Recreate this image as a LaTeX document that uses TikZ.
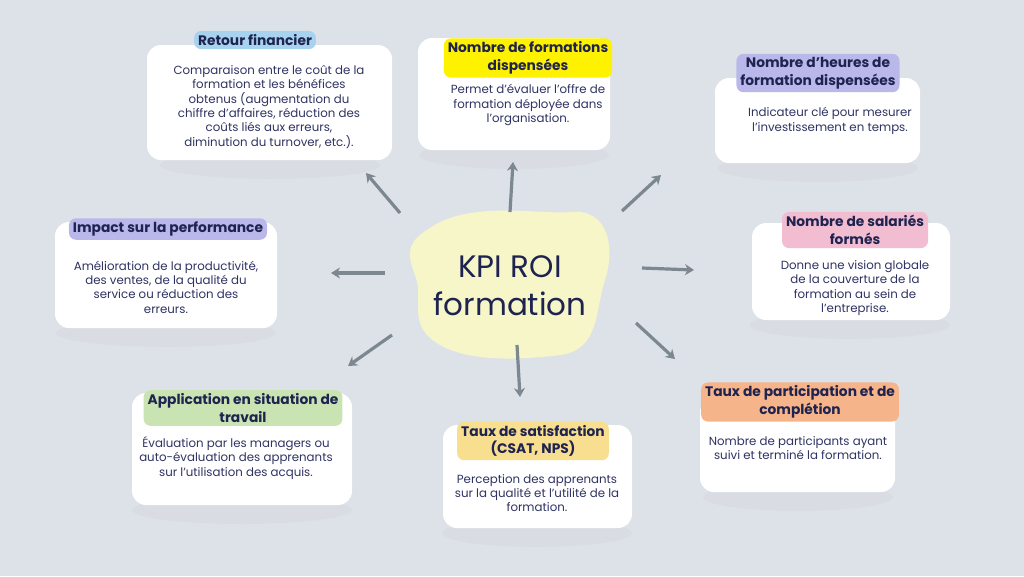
\documentclass[tikz,border=0pt]{standalone}
\usepackage{fontspec}
\setmainfont{Poppins}
\usetikzlibrary{arrows.meta}
\definecolor{bg}{HTML}{DDE2E9}
\definecolor{ink}{HTML}{1E2350}
\definecolor{body}{HTML}{2F3363}
\definecolor{arr}{HTML}{7C8790}
\definecolor{cblue}{HTML}{A7D3EE}
\definecolor{cyel}{HTML}{FFF200}
\definecolor{clav}{HTML}{BAB7EA}
\definecolor{cpink}{HTML}{F3BDD1}
\definecolor{corg}{HTML}{F6B48A}
\definecolor{csat}{HTML}{F8DE8F}
\definecolor{cgrn}{HTML}{C9E3B3}
\definecolor{blob}{HTML}{F6F6C9}
\tikzset{
 card/.style={fill=white,rounded corners=14pt,draw=none},
 shad/.style={fill=gray!40,opacity=0.2,draw=none},
 lab/.style={rounded corners=7pt,inner xsep=4pt,inner ysep=3.5pt,align=center,font=\fontsize{13.8}{17.5}\selectfont\bfseries,text=ink},
 txt/.style={align=center,font=\fontsize{11.8}{14.3}\selectfont,text=body},
 ar/.style={draw=arr,line width=3.2pt,-{Stealth[length=9pt,width=11pt]}}
}
\begin{document}
\begin{tikzpicture}[x=1pt,y=-1pt]
\fill[bg] (0,0) rectangle (1024,576);
\useasboundingbox (0,0) rectangle (1024,576);
% shadows
\foreach \cx/\cy/\w in {270/165/110,514/155/95,818/168/100,850/325/100,798/497/95,537/533/95,242/510/110,166/333/110}
 \fill[shad] (\cx,\cy) ellipse ({\w pt} and 14pt);
% cards
\node[card,minimum width=245pt,minimum height=115pt] (c1) at (269.5,102.5) {};
\node[card,minimum width=192pt,minimum height=112pt] (c2) at (514,94) {};
\node[card,minimum width=205pt,minimum height=85pt] (c3) at (817.5,120.5) {};
\node[card,minimum width=198pt,minimum height=97pt] (c4) at (851,271.5) {};
\node[card,minimum width=195pt,minimum height=94pt] (c5) at (797.5,445) {};
\node[card,minimum width=189pt,minimum height=103pt] (c6) at (537.5,476.5) {};
\node[card,minimum width=220pt,minimum height=112pt] (c7) at (242,449) {};
\node[card,minimum width=222pt,minimum height=106pt] (c8) at (166,275) {};
% labels
\node[lab,fill=cblue] (l1) at (255,40) {Retour financier};
\node[lab,fill=cyel] (l2) at (528,58) {Nombre de formations\\dispensées};
\node[lab,fill=clav] (l3) at (818,73) {Nombre d’heures de\\formation dispensées};
\node[lab,fill=cpink] (l4) at (855,230) {Nombre de salariés\\formés};
\node[lab,fill=corg] (l5) at (800,402) {Taux de participation et de\\complétion};
\node[lab,fill=csat] (l6) at (533,441) {Taux de satisfaction\\(CSAT, NPS)};
\node[lab,fill=cgrn] (l7) at (243,408) {Application en situation de\\travail};
\node[lab,fill=clav] (l8) at (168,229) {Impact sur la performance};
% texts
\node[txt] (t1) at (269,107) {Comparaison entre le coût de la\\formation et les bénéfices\\obtenus (augmentation du\\chiffre d’affaires, réduction des\\coûts liés aux erreurs,\\diminution du turnover, etc.).};
\node[txt] (t2) at (528,105) {Permet d’évaluer l’offre de\\formation déployée dans\\l’organisation.};
\node[txt] (t3) at (830,121) {Indicateur clé pour mesurer\\l’investissement en temps.};
\node[txt] (t4) at (855,288) {Donne une vision globale\\de la couverture de la\\formation au sein de\\l’entreprise.};
\node[txt] (t5) at (798,448) {Nombre de participants ayant\\suivi et terminé la formation.};
\node[txt] (t6) at (537,493) {Perception des apprenants\\sur la qualité et l’utilité de la\\formation.};
\node[txt] (t7) at (236,458) {Évaluation par les managers ou\\auto-évaluation des apprenants\\sur l’utilisation des acquis.};
\node[txt] (t8) at (166,287) {Amélioration de la productivité,\\des ventes, de la qualité du\\service ou réduction des\\erreurs.};
% blob
\fill[blob] (430,228) .. controls (470,200) and (540,215) .. (570,212)
 .. controls (610,208) and (615,250) .. (605,280)
 .. controls (595,310) and (600,350) .. (560,355)
 .. controls (520,360) and (470,362) .. (440,345)
 .. controls (405,325) and (425,300) .. (415,275)
 .. controls (405,250) and (410,240) .. (430,228) -- cycle;
\node[font=\fontsize{31}{38}\selectfont,text=ink,align=center] (ctr) at (510,286) {KPI ROI\\formation};
% arrows
\coordinate (a1s) at (400,213); \coordinate (a1e) at (366,173);
\coordinate (a2s) at (510,212); \coordinate (a2e) at (513,162);
\coordinate (a3s) at (622,211); \coordinate (a3e) at (661,175);
\coordinate (a4s) at (385,273); \coordinate (a4e) at (331,273);
\coordinate (a5s) at (642,268); \coordinate (a5e) at (694,270);
\coordinate (a6s) at (392,335); \coordinate (a6e) at (348,366);
\coordinate (a7s) at (517,345); \coordinate (a7e) at (520,397);
\coordinate (a8s) at (636,323); \coordinate (a8e) at (675,359);
\foreach \i in {1,...,8} \draw[ar] (a\i s) -- (a\i e);
\end{tikzpicture}
\end{document}
